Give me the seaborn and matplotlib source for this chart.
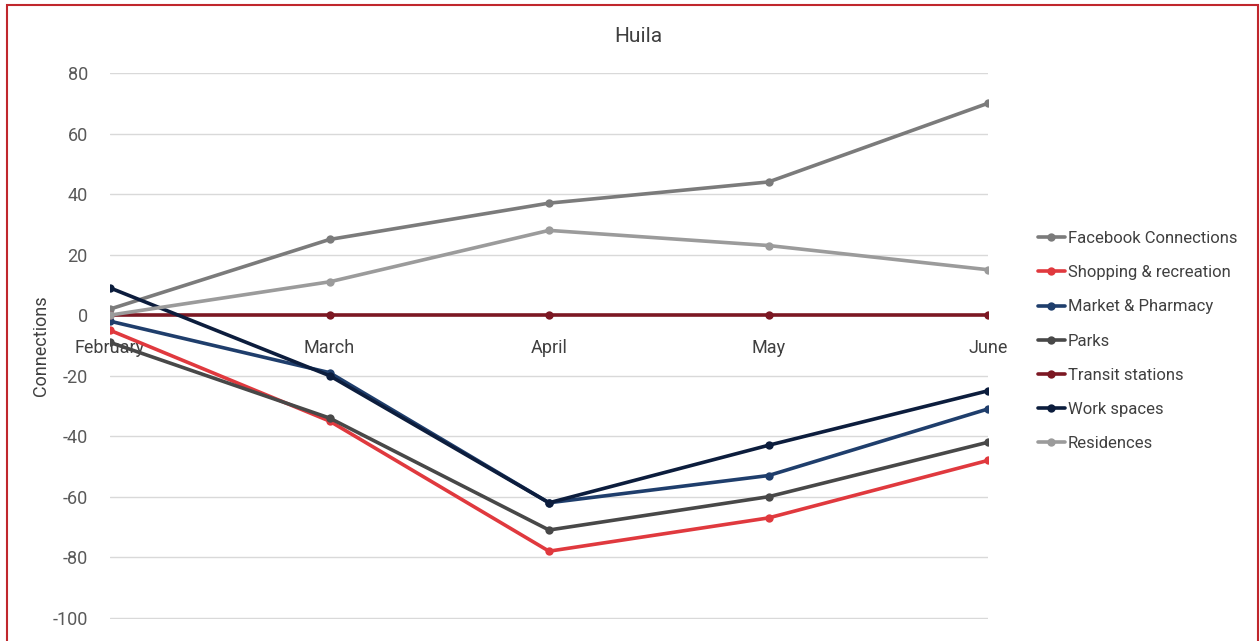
import pandas as pd
import matplotlib.pyplot as plt
import seaborn as sns
from matplotlib.patches import Rectangle

sns.set_style("white")
plt.rcParams['font.family'] = ['Roboto', 'DejaVu Sans']
plt.rcParams['axes.unicode_minus'] = False

# Datos
months = ["February", "March", "April", "May", "June"]
facebook = [2, 25, 37, 44, 70]
shopping = [-5, -35, -78, -67, -48]
market = [-2, -19, -62, -53, -31]
parks = [-9, -34, -71, -60, -42]
transit = [0, 0, 0, 0, 0]
work = [9, -20, -62, -43, -25]
residences = [0, 11, 28, 23, 15]

series = {
    "Facebook Connections": facebook,
    "Shopping & recreation": shopping,
    "Market & Pharmacy": market,
    "Parks": parks,
    "Transit stations": transit,
    "Work spaces": work,
    "Residences": residences,
}
colors = ["#7b7b7b", "#e0393e", "#1f3e6c", "#484848", "#7c1823", "#0c1d3d", "#9b9b9b"]

df = pd.DataFrame([
    {"month": m, "value": v, "serie": name}
    for name, vals in series.items() for m, v in zip(months, vals)
])

fig = plt.figure(figsize=(12.6, 6.41), dpi=100)
ax = fig.add_axes([110 / 1260, 1 - 619 / 641, (988 - 110) / 1260, (619 - 73) / 641])

sns.lineplot(data=df, x="month", y="value", hue="serie", palette=colors,
             marker="o", markersize=6, markeredgewidth=0, linewidth=2.6,
             sort=False, ax=ax)

ax.set_xlim(0, 4)
ax.set_ylim(-100.4, 80)
ax.set_yticks(range(-100, 81, 20))
ax.yaxis.grid(True, color="#d9d9d9", linewidth=1)
ax.set_axisbelow(True)
for s in ax.spines.values():
    s.set_visible(False)
ax.spines['bottom'].set_position(('data', 0))
ax.tick_params(axis='x', length=0, pad=17, labelsize=13, labelcolor="#404040")
ax.tick_params(axis='y', length=0, pad=16, labelsize=13, labelcolor="#595959")
ax.set_xlabel("")
ax.set_ylabel("Connections", fontsize=13, color="#404040", labelpad=2)

fig.text(638 / 1260, 1 - 37 / 641, "Huila", ha="center", va="center",
         fontsize=15, color="#404040")

ax.legend(loc="center left", bbox_to_anchor=(1038 / 1260, 1 - 341 / 641),
          bbox_transform=fig.transFigure, frameon=False, fontsize=12,
          handlelength=1.6, handletextpad=0.2, labelspacing=1.15,
          labelcolor="#404040", borderpad=0, borderaxespad=0)

fig.patches.append(Rectangle((7 / 1260, -0.05), (1258 - 7) / 1260, 1.05 - 5 / 641,
                             transform=fig.transFigure, fill=False,
                             edgecolor="#c0272d", linewidth=1.5))

plt.savefig("out.png", dpi=100)
